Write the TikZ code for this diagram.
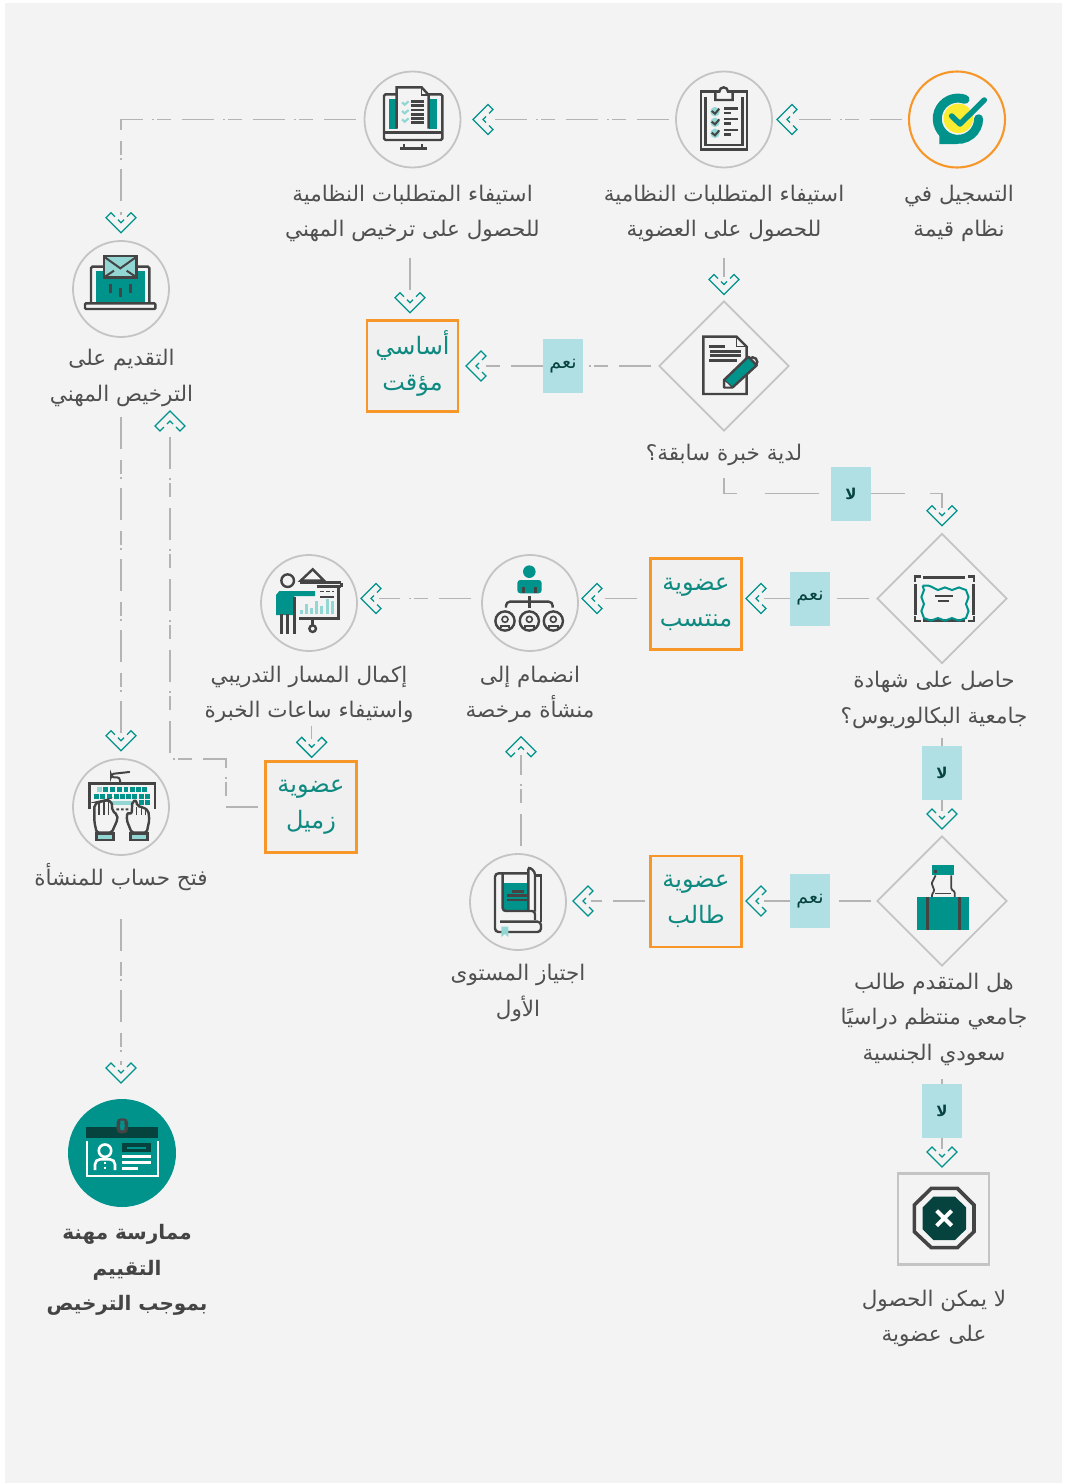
\documentclass[tikz,border=0pt]{standalone}
\usepackage{fontspec}
\usetikzlibrary{shapes.geometric,decorations.pathmorphing}
\TeXXeTstate=1
\newfontfamily\arabicfont[Script=Arabic]{DejaVu Sans}
\newcommand{\artxt}[1]{\beginR #1\endR}
\definecolor{pagebg}{HTML}{F3F3F3}
\definecolor{ink}{HTML}{444444}
\definecolor{lblink}{HTML}{505050}
\definecolor{tealc}{HTML}{00938C}
\definecolor{ltealc}{HTML}{93D7D5}
\definecolor{dteal}{HTML}{06433F}
\definecolor{boxteal}{HTML}{0E8A80}
\definecolor{orangec}{HTML}{F7972A}
\definecolor{greyc}{HTML}{C4C4C4}
\definecolor{dashc}{HTML}{B4B4B4}
\definecolor{tagc}{HTML}{B0DFE4}
\definecolor{yellowc}{HTML}{F9EC31}
\tikzset{
  circnode/.style={circle,draw=greyc,line width=1.8pt,minimum size=96pt,inner sep=0pt,fill=pagebg},
  diamnode/.style={diamond,aspect=1,draw=greyc,line width=1.7pt,minimum width=130pt,minimum height=130pt,inner sep=0pt},
  outcome/.style={rectangle,draw=orangec,line width=2.4pt,fill=black!6!white,minimum size=91pt,inner sep=0pt,align=center,text=boxteal,font=\arabicfont\fontsize{24}{36}\selectfont},
  tag/.style={rectangle,fill=tagc,minimum width=40pt,minimum height=54pt,inner sep=0pt,text=dteal,font=\arabicfont\fontsize{19}{20}\selectfont},
  notag/.style={tag,font=\arabicfont\bfseries\fontsize{15}{16}\selectfont},
  lbl/.style={inner sep=0pt,align=center,text=lblink,font=\arabicfont\fontsize{21.5}{35.5}\selectfont},
  two/.style={minimum height=62pt},
  three/.style={minimum height=98pt},
  one/.style={minimum height=26pt},
  conn/.style={draw=dashc,line width=1.3pt,dash pattern=on 32pt off 11pt on 14pt off 3pt on 2pt off 9pt},
  chevline/.style={draw=tealc,line width=1.3pt,miter limit=4},
  ic/.style={draw=ink,line width=2.4pt},
  z/.style 2 args={shift={(#1,#2)},x=0.33333pt,y=-0.33333pt}
}
\newcommand{\chev}[4]{\begin{scope}[shift={(#2,#3)},rotate=#4]
  \draw[chevline] (16,-6)--(20,-10)--(15,-15)--(0,0)--(15,15)--(20,10)--(16,6);
  \draw[chevline] (13,-3)--(10,0)--(13,3);
  \coordinate (#1) at (18,0);
\end{scope}}
\begin{document}
\begin{tikzpicture}[x=1pt,y=-1pt]
\useasboundingbox (0,0) rectangle (1067,1483);
\fill[white] (0,0) rectangle (1067,1483);
\fill[pagebg] (5,3) rectangle (1062,1483);

% ---- process nodes
\node[circnode,draw=orangec,line width=2.1pt] (c0) at (957,119.5) {};
\node[circnode] (c1) at (724,119.5) {};
\node[circnode] (c2) at (412.5,119.5) {};
\node[circnode] (c3) at (121,289) {};
\node[circnode] (c4) at (309,603) {};
\node[circnode] (c5) at (530,603) {};
\node[circnode] (c6) at (121,807) {};
\node[circnode] (c7) at (518,902) {};
\node[circle,fill=tealc,minimum size=108pt,inner sep=0pt] (c8) at (122,1153) {};
\node[diamnode] (d1) at (724,366) {};
\node[diamnode] (d2) at (942,598.5) {};
\node[diamnode] (d3) at (942,901) {};
\node[outcome] (b1) at (412.5,366) {\smash{\artxt{أساسي}}\rule{0pt}{19pt}\\\artxt{مؤقت}};
\node[outcome] (b2) at (696,604) {\artxt{عضوية}\\\artxt{منتسب}};
\node[outcome] (b3) at (311,807) {\artxt{عضوية}\\\artxt{زميل}};
\node[outcome] (b4) at (696,901.5) {\artxt{عضوية}\\\artxt{طالب}};
\node[rectangle,draw=greyc,line width=2.1pt,minimum size=91pt,inner sep=0pt] (stop) at (943.5,1219) {};
\node[tag] (yes1) at (563,366) {\artxt{نعم}};
\node[notag] (no1) at (851,493.5) {\artxt{لا}};
\node[tag] (yes2) at (810,598.5) {\artxt{نعم}};
\node[notag] (no2) at (942,773) {\artxt{لا}};
\node[tag] (yes3) at (810,901) {\artxt{نعم}};
\node[notag] (no3) at (942,1111) {\artxt{لا}};

% ---- labels
\node[lbl,two] (l0) at (959,213.5) {\artxt{التسجيل في}\\\artxt{نظام قيمة}};
\node[lbl,two] (l1) at (724,213.5) {\artxt{استيفاء المتطلبات النظامية}\\\artxt{للحصول على العضوية}};
\node[lbl,two] (l2) at (412.5,213.5) {\artxt{استيفاء المتطلبات النظامية}\\\artxt{للحصول على ترخيص المهني}};
\node[lbl,two] (l3) at (121.5,378) {\artxt{التقديم على}\\\artxt{الترخيص المهني}};
\node[lbl,one] (ld1) at (724,455) {\artxt{لدية خبرة سابقة؟}};
\node[lbl,two] (ld2) at (934,700) {\artxt{حاصل على شهادة}\\\artxt{جامعية البكالوريوس؟}};
\node[lbl,two] (l5) at (530,694.5) {\artxt{انضمام إلى}\\\artxt{منشأة مرخصة}};
\node[lbl,two] (l4) at (309,694.5) {\artxt{إكمال المسار التدريبي}\\\artxt{واستيفاء ساعات الخبرة}};
\node[lbl,one] (l6) at (121,877) {\artxt{فتح حساب للمنشأة}};
\node[lbl,two] (l7) at (518,993) {\artxt{اجتياز المستوى}\\\artxt{الأول}};
\node[lbl,three] (ld3) at (934,1019) {\artxt{هل المتقدم طالب}\\\artxt{جامعي منتظم دراسيًا}\\\artxt{سعودي الجنسية}};
\node[lbl,two] (lstop) at (934,1318.5) {\artxt{لا يمكن الحصول}\\\artxt{على عضوية}};
\node[lbl,three,text=ink,font=\arabicfont\bfseries\fontsize{20}{35.5}\selectfont] (l8) at (127,1270) {\artxt{ممارسة مهنة}\\\artxt{التقييم}\\\artxt{بموجب الترخيص}};

% ---- chevrons
\chev{chA}{777}{119.5}{0}
\chev{chB}{473}{119.5}{0}
\chev{chC}{466}{366}{0}
\chev{chD}{746}{598.5}{0}
\chev{chE}{582}{598.5}{0}
\chev{chF}{361}{598.5}{0}
\chev{chG}{746}{901}{0}
\chev{chH}{573}{901}{0}
\chev{chI}{121}{232.7}{90}
\chev{chJ}{724}{294.5}{90}
\chev{chK}{410}{312.7}{90}
\chev{chL}{942}{525.7}{90}
\chev{chM}{942}{829}{90}
\chev{chN}{942}{1167}{90}
\chev{chO}{311.7}{757.3}{90}
\chev{chP}{121}{750.7}{90}
\chev{chQ}{121}{1083}{90}
\chev{chR}{170}{411}{-90}
\chev{chS}{521}{736.7}{-90}
\coordinate (jog) at (226,759);

% ---- connectors
\draw[conn,shorten <=6pt] (c0.west |- chA) -- (chA);
\draw[conn,shorten <=6pt] (c1.west |- chB) -- (chB);
\draw[conn,shorten <=8pt] (c2.west) -| (chI);
\draw[conn,shorten <=13pt] (l1.south -| chJ) -- (chJ);
\draw[conn,shorten <=13pt] (l2.south -| chK) -- (chK);
\draw[conn,shorten <=7pt] (d1.west) -- (yes1.east);
\draw[conn] (yes1.west) -- (chC);
\draw[conn,dash pattern=on 28pt off 28pt on 54pt off 30pt,shorten <=10pt] (ld1.south) |- (no1.west);
\draw[conn,dash pattern=on 34pt off 25pt on 50pt] (no1.east) -| (chL);
\draw[conn,shorten <=7pt] (d2.west) -- (yes2.east);
\draw[conn] (yes2.west) -- (chD);
\draw[conn,shorten <=12pt] (b2.west |- chE) -- (chE);
\draw[conn,shorten <=10pt] (c5.west |- chF) -- (chF);
\draw[conn,shorten <=0pt] (l4.south -| chO) -- (chO);
\draw[conn,shorten <=7pt] (ld2.south -| no2) -- (no2.north);
\draw[conn] (no2.south) -- (chM);
\draw[conn,shorten <=5pt] (d3.west) -- (yes3.east);
\draw[conn] (yes3.west) -- (chG);
\draw[conn,shorten <=4pt] (b4.west |- chH) -- (chH);
\draw[conn,shorten <=7pt] (c7.north -| chS) -- (chS);
\draw[conn,shorten <=11pt] (ld3.south -| no3) -- (no3.north);
\draw[conn] (no3.south) -- (chN);
\draw[conn,shorten <=6pt] (b3.west) -| (jog) -| (chR);
\draw[conn,shorten <=8pt] (l3.south -| chP) -- (chP);
\draw[conn,shorten <=28pt] (l6.south -| chQ) -- (chQ);

% ---- icon: logo
\begin{scope}[z={640}{50}]
  \fill[tealc] (898,282)--(898,235)--(950,282)--cycle;
  \draw[tealc,line width=9pt,line cap=round] (975,148) arc[start angle=-70,end angle=-360,radius=62];
  \fill[yellowc] (955,205) circle (14.7pt);
  \draw[tealc,line width=5.5pt,line cap=round,line join=round] (935,198)--(960,222)--(1033,150);
\end{scope}
% ---- icon: clipboard
\begin{scope}[z={640}{50}]
  \draw[ic] (183,125) rectangle (321,298);
  \draw[ic] (197,140)--(197,285)--(307,285)--(307,140);
  \draw[ic,fill=pagebg] (226,125)--(238,125) arc[start angle=180,end angle=360,radius=13]--(278,125)--(278,150)--(226,150)--cycle;
  \foreach \yy in {185,217,250}{
    \fill[ltealc] (225,\yy) circle (4.7pt);
    \draw[ink,line width=2pt] (215,\yy-2)--(225,\yy+6)--(238,\yy-9);
    \draw[ink,line width=2.6pt] (252,\yy-10)--(294,\yy-10);
    \draw[ink,line width=2.6pt] (252,\yy+4)--(273,\yy+4);
  }
\end{scope}
% ---- icon: monitor
\begin{scope}[z={270}{50}]
  \draw[ic,rounded corners=1.5pt] (342,133) rectangle (517,270);
  \draw[ic] (342,248)--(517,248);
  \fill[tealc] (357,147) rectangle (380,236);
  \fill[tealc] (478,147) rectangle (500,236);
  \draw[ic,fill=pagebg] (380,236)--(380,112)--(455,112)--(476,135)--(476,236);
  \draw[ink,line width=1.4pt] (455,112)--(455,135)--(476,135);
  \foreach \yy in {154,167,180,193,206,218}{\draw[ink,line width=2.6pt] (423,\yy)--(462,\yy);}
  \foreach \yy in {160,186,211}{\draw[ltealc,line width=2.2pt] (396,\yy-3)--(404,\yy+4)--(416,\yy-6);}
  \draw[ink,line width=2.6pt] (390,295)--(470,295);
  \draw[ink,line width=2pt] (403,281)--(403,295) (456,281)--(456,295);
\end{scope}
% ---- icon: laptop
\begin{scope}[z={30}{200}]
  \draw[ic,rounded corners=1.5pt] (183,310)--(183,200)--(358,200)--(358,310);
  \fill[tealc] (198,212) rectangle (345,308);
  \draw[ic,fill=pagebg,rounded corners=1pt] (165,310) rectangle (376,327);
  \draw[ic,fill=ltealc] (222,168) rectangle (320,232);
  \draw[ic,line width=2pt] (222,170)--(271,205)--(320,170);
  \draw[ic,line width=2pt] (222,232)--(252,212) (320,232)--(290,212);
  \draw[ink,line width=3pt] (241,252)--(241,278) (271,264)--(271,290) (301,252)--(301,278);
\end{scope}
% ---- icon: document and pencil
\begin{scope}[z={640}{300}]
  \draw[ic] (290,110)--(190,110)--(190,282)--(320,282)--(320,140)--cycle;
  \draw[ic,line width=1.6pt] (290,110)--(290,140)--(320,140);
  \draw[ink,line width=2.6pt] (207,140)--(255,140) (209,155)--(303,155) (209,167)--(303,167) (207,181)--(291,181);
  \draw[ic,fill=pagebg] (328,176) arc[start angle=-135,end angle=100,radius=14]--cycle;
  \draw[ic,fill=tealc,line join=round] (252,240)--(325,170)--(350,196)--(278,262)--(252,262)--cycle;
  \draw[ink,line width=1.2pt] (252,240)--(278,262);
  \fill[pagebg] (256,245)--(272,260)--(256,260)--cycle;
\end{scope}
% ---- icon: certificate
\begin{scope}[z={640}{300}]
  \draw[ink,line width=3pt] (850,832)--(975,832) (850,962)--(975,962) (826,852)--(826,945) (1001,852)--(1001,945);
  \draw[ink,line width=2.4pt] (825,845)--(825,830)--(843,830) (985,830)--(1002,830)--(1002,845) (825,948)--(825,963)--(843,963) (985,963)--(1002,963)--(1002,948);
  \draw[tealc,line width=2pt,decorate,decoration={snake,amplitude=1.3pt,segment length=14pt}] (848,857) rectangle (978,938);
  \draw[ink,line width=2.2pt] (885,888)--(940,888) (895,904)--(928,904);
\end{scope}
% ---- icon: suitcase and hand
\begin{scope}[z={820}{800}]
  \fill[tealc] (337,195) rectangle (403,225);
  \fill[ink] (342,210) rectangle (350,218);
  \draw[ic,line width=1.8pt,rounded corners=1pt] (347,226)--(335,250)--(343,272)--(336,283)--(336,292);
  \draw[ic,line width=1.8pt,rounded corners=1pt] (394,226)--(394,268)--(404,275)--(404,292);
  \draw[ic,line width=1.3pt] (345,280)--(392,280);
  \fill[tealc] (292,291) rectangle (446,389);
  \draw[ink,line width=3pt] (323,291)--(323,389) (418,291)--(418,389);
\end{scope}
% ---- icon: stop sign
\begin{scope}[z={840}{1070}]
  \draw[ink,line width=3.6pt] (274,355)--(352,355)--(402,405)--(402,485)--(352,533)--(274,533)--(223,485)--(223,405)--cycle;
  \fill[dteal] (280,380)--(345,380)--(378,412)--(378,478)--(345,510)--(280,510)--(248,478)--(248,412)--cycle;
  \draw[white,line width=4pt] (290,422)--(335,467) (335,422)--(290,467);
\end{scope}
% ---- icon: organisation
\begin{scope}[z={200}{540}]
  \fill[tealc] (988,95) circle (6.3pt);
  \fill[tealc,rounded corners=3pt] (952,160)--(952,120)--(1025,120)--(1025,160)--cycle;
  \draw[ink,line width=2.8pt] (970,142)--(970,160) (1006,142)--(1006,160);
  \draw[ink,line width=2.8pt] (988,168)--(988,205);
  \draw[ic,rounded corners=4pt] (918,203)--(918,185)--(1058,185)--(1058,203);
  \foreach \xx in {915,988,1060}{
    \draw[ic] (\xx,243) circle (9.6pt);
    \draw[ink,line width=1.6pt] (\xx,238) circle (3pt);
    \draw[ink,line width=1.8pt] (\xx-13,264)--(\xx-13,258)--(\xx+13,258)--(\xx+13,264);
  }
\end{scope}
% ---- icon: presenter
\begin{scope}[z={200}{540}]
  \draw[ic] (263,122) circle (6.3pt);
  \fill[tealc] (228,225)--(228,165)--(238,153)--(345,153)--(345,168)--(283,168)--(280,225)--cycle;
  \draw[ink,line width=3pt] (243,222)--(243,282) (262,222)--(262,282) (284,170)--(284,282);
  \draw[ic] (302,122)--(338,88)--(372,122)--cycle;
  \draw[ink,line width=2.8pt] (300,128)--(424,128) (424,128)--(424,140) (350,140)--(424,140);
  \draw[ic] (415,140)--(415,235)--(298,235);
  \draw[ink,line width=1.6pt,dash pattern=on 4pt off 2pt] (360,155)--(402,155);
  \draw[ink,line width=2.2pt] (360,172)--(402,172);
  \draw[ic] (338,235)--(338,255);
  \draw[ic] (338,266) circle (3.3pt);
  \foreach \xx/\hh in {305/12,320/30,335/18,350/38,365/24,383/44,398/38}{
    \fill[ltealc] (\xx-4,222) rectangle (\xx+4,222-\hh);
  }
\end{scope}
% ---- icon: keyboard
\begin{scope}[z={30}{720}]
  \draw[ic] (178,268)--(178,190)--(375,190)--(375,268);
  \draw[ink,line width=2pt,line cap=round,rounded corners=3pt] (270,188)--(270,172)--(243,172)--(243,162)--(298,156);
  \fill[ltealc] (201,201) rectangle (216,216);
  \foreach \xx in {220,240,261,281,301,319,337}{\fill[tealc] (\xx,201) rectangle (\xx+14,216);}
  \foreach \xx in {192,210,232,252,270,288,306,327,345}{\fill[tealc] (\xx,222) rectangle (\xx+14,237);}
  \foreach \xx in {327,345}{\fill[tealc] (\xx,241) rectangle (\xx+14,256);}
  \fill[ltealc] (240,242) rectangle (305,255);
  \fill[ink] (259,265) rectangle (267,271) (273,265) rectangle (281,271) (287,265) rectangle (295,271);
  \draw[ic,fill=pagebg,rounded corners=2pt] (200,338)--(193,305)--(193,255)--(207,245)--(215,245)--(225,240)--(245,245)--(247,272)--(262,285)--(262,300)--(245,338)--cycle;
  \draw[ink,line width=1.6pt] (207,250)--(207,285) (222,245)--(222,285) (236,245)--(236,285);
  \draw[ic,fill=ltealc] (200,340) rectangle (250,360);
  \draw[ic,fill=pagebg,rounded corners=2pt] (305,338)--(290,300)--(292,278)--(305,282)--(307,245)--(318,240)--(322,258)--(340,262)--(355,272)--(358,300)--(350,338)--cycle;
  \draw[ink,line width=1.6pt] (320,262)--(320,285) (335,262)--(335,285) (347,268)--(347,285);
  \draw[ic,fill=ltealc] (302,340) rectangle (352,360);
\end{scope}
% ---- icon: book
\begin{scope}[z={440}{730}]
  \fill[tealc] (188,460) rectangle (265,543);
  \draw[ink,line width=2.6pt] (216,484)--(252,484) (201,497)--(265,497) (201,510)--(265,510);
  \draw[ic,rounded corners=3.5pt] (265,430)--(165,430)--(165,606)--(303,606)--(303,575)--(180,575);
  \draw[ic,rounded corners=3pt] (188,430)--(188,543)--(285,543)--(285,570);
  \draw[ic,rounded corners=3pt] (265,543)--(265,410)--(285,425)--(285,545);
  \draw[ic] (285,437)--(303,437)--(303,575);
  \fill[ltealc] (184,590)--(205,590)--(205,621)--(195,612)--(184,621)--cycle;
\end{scope}
% ---- icon: licence badge
\begin{scope}[z={30}{1050}]
  \fill[dteal] (168,232) rectangle (384,264);
  \fill[ink,rounded corners=4pt] (260,205) rectangle (294,250);
  \fill[tealc] (277,228) circle (2.6pt) (271,212) rectangle (283,240);
  \draw[white,line width=2.2pt] (170,272)--(170,378)--(384,378)--(384,272);
  \draw[white,line width=2.6pt] (225,302) circle (6.2pt);
  \draw[white,line width=2.6pt,rounded corners=5pt] (195,360)--(195,328)--(255,328)--(255,360);
  \draw[white,line width=2.2pt,dash pattern=on 2pt off 2.5pt] (224,336)--(224,360);
  \fill[dteal] (277,280) rectangle (364,306);
  \fill[tealc] (292,290) rectangle (348,297);
  \draw[white,line width=2.8pt] (276,320)--(363,320) (276,338)--(363,338) (276,355)--(325,355);
\end{scope}
\end{tikzpicture}
\end{document}
